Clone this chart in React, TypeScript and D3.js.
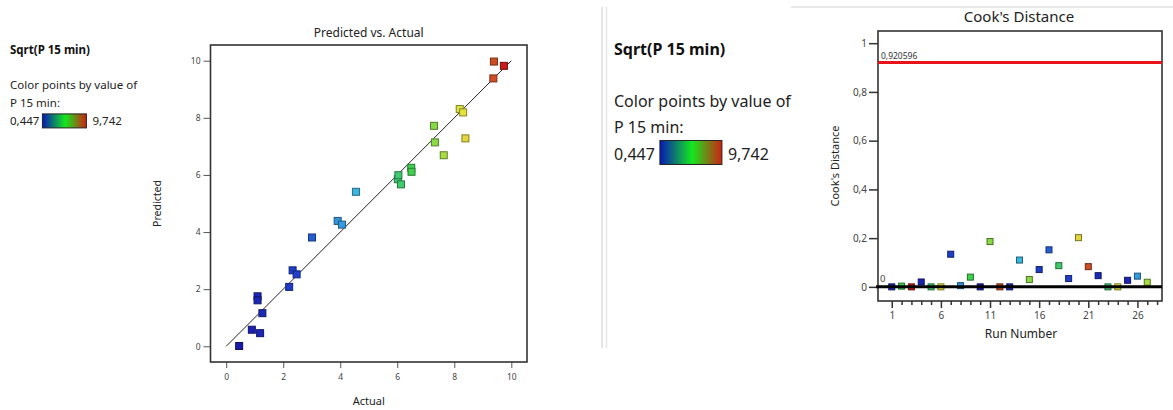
import { useRef, useEffect } from 'react'
import * as d3 from 'd3'

// run order data (response = Sqrt(P 15 min))
const runActual = [1.10, 6.49, 9.74, 0.90, 6.02, 8.31, 2.33, 3.91, 6.50, 0.455, 7.29, 9.39, 1.19, 4.55, 7.32, 2.21, 3.01, 6.13, 2.47, 8.39, 9.37, 1.27, 6.04, 8.19, 1.10, 4.06, 7.63]
const runPredicted = [1.75, 6.25, 9.82, 0.58, 5.85, 8.19, 2.66, 4.39, 6.11, 0.01, 7.72, 9.97, 0.46, 5.41, 7.14, 2.08, 3.81, 5.67, 2.52, 7.28, 9.38, 1.16, 5.99, 8.31, 1.61, 4.26, 6.69]
const runCooks = [0, 0.003, 0, 0.02, 0, 0, 0.134, 0.005, 0.04, 0, 0.186, 0, 0, 0.11, 0.03, 0.071, 0.152, 0.087, 0.034, 0.202, 0.083, 0.046, 0, 0, 0.027, 0.044, 0.019]

const colorMin = 0.447
const colorMax = 9.742
const cooksLimit = 0.920596

const pvaTicks = [0, 2, 4, 6, 8, 10]
const cookYTicks = [0, 0.2, 0.4, 0.6, 0.8, 1]
const cookYTickLabels = ['0', '0,2', '0,4', '0,6', '0,8', '1']
const runMajorTicks = [1, 6, 11, 16, 21, 26]
const runMinorTicks = [2, 3, 4, 5, 7, 8, 9, 10, 12, 13, 14, 15, 17, 18, 19, 20, 22, 23, 24, 25, 27, 28]

const colorStops = [0.447, 2.5, 4.5, 6.5, 8.3, 9.742]
const colorValues = ['#1a1aa8', '#1f40cc', '#3ab6e4', '#3fd050', '#e4e43c', '#c81a1a']

const FONT = '"Noto Sans", "Open Sans", sans-serif'

const App = () => {
  const chartRef = useRef<SVGSVGElement>(null)

  useEffect(() => {
    drawChart()
  }, [])

  const drawChart = () => {
    const svg = d3.select(chartRef.current)
    svg.selectAll('*').remove()
    svg.style('font-family', FONT)

    const color = d3.scaleLinear<string>().domain(colorStops).range(colorValues)

    // gradient for legends
    const defs = svg.append('defs')
    const grad = defs.append('linearGradient').attr('id', 'legendGrad')
    grad.append('stop').attr('offset', '0%').attr('stop-color', '#0818b8')
    grad.append('stop').attr('offset', '52%').attr('stop-color', '#14e81e')
    grad.append('stop').attr('offset', '100%').attr('stop-color', '#d02010')

    const drawLegend = (g: d3.Selection<SVGGElement, unknown, null, undefined>, size: number, lh: number, titleY: number, boxW: number, boxH: number, gap: number) => {
      g.append('text').attr('x', 0).attr('y', titleY).attr('font-weight', 'bold')
        .attr('font-size', size).attr('fill', '#111').text('Sqrt(P 15 min)')
      const y0 = titleY + lh * 1.95
      g.append('text').attr('x', 0).attr('y', y0).attr('font-size', size).attr('fill', '#222')
        .text('Color points by value of')
      g.append('text').attr('x', 0).attr('y', y0 + lh).attr('font-size', size).attr('fill', '#222')
        .text('P 15 min:')
      const t = g.append('text').attr('x', 0).attr('y', y0 + lh * 2).attr('font-size', size).attr('fill', '#222')
        .text(String(colorMin).replace('.', ','))
      const w = (t.node() as SVGTextElement).getComputedTextLength()
      g.append('rect').attr('x', w + gap).attr('y', y0 + lh * 2 - boxH * 0.8).attr('width', boxW).attr('height', boxH)
        .attr('fill', 'url(#legendGrad)').attr('stroke', '#222').attr('stroke-width', 1)
      g.append('text').attr('x', w + gap + boxW + 6).attr('y', y0 + lh * 2).attr('font-size', size).attr('fill', '#222')
        .text(String(colorMax).replace('.', ','))
    }

    drawLegend(svg.append('g').attr('transform', 'translate(10,0)'), 11.5, 18, 54, 44, 14, 3)

    // ---------- Predicted vs Actual ----------
    const p = { left: 210.5, right: 527, top: 45, bottom: 362 }
    const x = d3.scaleLinear().domain([-0.55, 10.55]).range([p.left, p.right])
    const y = d3.scaleLinear().domain([-0.55, 10.55]).range([p.bottom, p.top])

    const pva = svg.append('g')
    pva.append('text').attr('x', (p.left + p.right) / 2).attr('y', 37).attr('text-anchor', 'middle')
      .attr('font-size', 12).attr('fill', '#222').text('Predicted vs. Actual')

    const xAxis = pva.append('g').attr('transform', `translate(0,${p.bottom})`)
      .call(d3.axisBottom(x).tickValues(pvaTicks).tickSize(6).tickPadding(6).tickFormat(d3.format('d')))
    const yAxis = pva.append('g').attr('transform', `translate(${p.left},0)`)
      .call(d3.axisLeft(y).tickValues(pvaTicks).tickSize(7).tickPadding(3).tickFormat(d3.format('d')))
    ;[xAxis, yAxis].forEach((a) => {
      a.select('.domain').remove()
      a.selectAll('line').attr('stroke', '#555')
      a.selectAll('text').attr('fill', '#444').attr('font-size', 8.5).attr('font-family', FONT)
    })

    pva.append('rect').attr('x', p.left).attr('y', p.top).attr('width', p.right - p.left).attr('height', p.bottom - p.top)
      .attr('fill', 'none').attr('stroke', '#333').attr('stroke-width', 1.6)

    pva.append('line').attr('x1', x(0)).attr('y1', y(0)).attr('x2', x(10)).attr('y2', y(10))
      .attr('stroke', '#222').attr('stroke-width', 1)

    const order = d3.range(runActual.length).sort((a, b) => runActual[a] - runActual[b])
    const sq = 7
    pva.selectAll('rect.pt').data(order).enter().append('rect').attr('class', 'pt')
      .attr('x', (i) => x(runActual[i]) - sq / 2)
      .attr('y', (i) => y(runPredicted[i]) - sq / 2)
      .attr('width', sq).attr('height', sq)
      .attr('fill', (i) => color(runActual[i]))
      .attr('stroke', (i) => d3.color(color(runActual[i]))!.darker(1.5).toString())
      .attr('stroke-width', 1)

    pva.append('text').attr('x', (p.left + p.right) / 2).attr('y', 405).attr('text-anchor', 'middle')
      .attr('font-size', 11).attr('fill', '#222').text('Actual')
    pva.append('text').attr('transform', `translate(161,${(p.top + p.bottom) / 2}) rotate(-90)`)
      .attr('text-anchor', 'middle').attr('font-size', 10.5).attr('fill', '#222').text('Predicted')

    // ---------- right panel ----------
    svg.append('line').attr('x1', 602).attr('y1', 7).attr('x2', 602).attr('y2', 348).attr('stroke', '#ddd').attr('stroke-width', 1.5)
    svg.append('line').attr('x1', 606.5).attr('y1', 7).attr('x2', 606.5).attr('y2', 348).attr('stroke', '#e6e6e6').attr('stroke-width', 1.5)
    svg.append('line').attr('x1', 791).attr('y1', 7).attr('x2', 1173).attr('y2', 7).attr('stroke', '#e2e2e2').attr('stroke-width', 1.5)

    drawLegend(svg.append('g').attr('transform', 'translate(614,0)'), 16, 26.5, 55, 62, 24, 5)

    // ---------- Cook's distance ----------
    const c = { left: 878, right: 1162, top: 31, bottom: 301 }
    const cx = d3.scaleLinear().domain([-0.4, 28.5]).range([c.left, c.right])
    const cy = d3.scaleLinear().domain([-0.058, 1.05]).range([c.bottom, c.top])

    const ck = svg.append('g')
    ck.append('text').attr('x', 1019).attr('y', 22).attr('text-anchor', 'middle')
      .attr('font-size', 15).attr('fill', '#222').text("Cook's Distance")

    const cyAxis = ck.append('g').attr('transform', `translate(${c.left},0)`)
      .call(d3.axisLeft(cy).tickValues(cookYTicks).tickSize(9).tickPadding(2)
        .tickFormat((d, i) => cookYTickLabels[i]))
    const cxMinor = ck.append('g').attr('transform', `translate(0,${c.bottom})`)
      .call(d3.axisBottom(cx).tickValues(runMinorTicks).tickSize(4).tickFormat(() => ''))
    const cxMajor = ck.append('g').attr('transform', `translate(0,${c.bottom})`)
      .call(d3.axisBottom(cx).tickValues(runMajorTicks).tickSize(7).tickPadding(4).tickFormat(d3.format('d')))
    ;[cyAxis, cxMinor, cxMajor].forEach((a) => {
      a.select('.domain').remove()
      a.selectAll('line').attr('stroke', '#333').attr('stroke-width', 1.5)
      a.selectAll('text').attr('fill', '#444').attr('font-size', 10).attr('font-family', FONT)
    })

    ck.append('rect').attr('x', c.left).attr('y', c.top).attr('width', c.right - c.left).attr('height', c.bottom - c.top)
      .attr('fill', 'none').attr('stroke', '#333').attr('stroke-width', 1.6)

    ck.append('line').attr('x1', c.left).attr('x2', c.right).attr('y1', cy(cooksLimit)).attr('y2', cy(cooksLimit))
      .attr('stroke', '#e8141a').attr('stroke-width', 3)
    ck.append('text').attr('x', c.left + 3).attr('y', cy(cooksLimit) - 4).attr('font-size', 8.5).attr('fill', '#333')
      .text(String(cooksLimit).replace('.', ','))

    const csq = 6
    ck.selectAll('rect.pt').data(runCooks).enter().append('rect').attr('class', 'pt')
      .attr('x', (d, i) => cx(i + 1) - csq / 2)
      .attr('y', (d) => cy(d) - csq / 2)
      .attr('width', csq).attr('height', csq)
      .attr('fill', (d, i) => color(runActual[i]))
      .attr('stroke', (d, i) => d3.color(color(runActual[i]))!.darker(1.8).toString())
      .attr('stroke-width', 1)

    ck.append('line').attr('x1', c.left - 2).attr('x2', c.right).attr('y1', cy(0)).attr('y2', cy(0))
      .attr('stroke', '#000').attr('stroke-width', 3)
    ck.append('text').attr('x', c.left + 2).attr('y', cy(0) - 5).attr('font-size', 9.5).attr('fill', '#444').text('0')

    ck.append('text').attr('x', 1021).attr('y', 338).attr('text-anchor', 'middle')
      .attr('font-size', 12).attr('fill', '#222').text('Run Number')
    ck.append('text').attr('transform', `translate(839,${(c.top + c.bottom) / 2}) rotate(-90)`)
      .attr('text-anchor', 'middle').attr('font-size', 11).attr('fill', '#222').text("Cook's Distance")
  }

  return (
    <div style={{ position: 'absolute', left: 0, top: 0 }}>
      <svg ref={chartRef} width={1173} height={410} style={{ display: 'block', background: '#fff' }}></svg>
    </div>
  )
}

export default App
